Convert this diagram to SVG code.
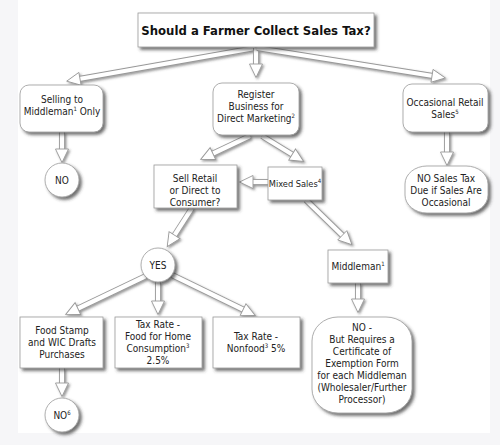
<svg xmlns="http://www.w3.org/2000/svg" width="500" height="445" viewBox="0 0 500 445">
<defs>
<filter id="sh" x="-20%" y="-20%" width="150%" height="160%">
<feDropShadow dx="2.5" dy="2.5" stdDeviation="1.6" flood-color="#333" flood-opacity="0.7"/>
</filter>
<filter id="ash" x="-20%" y="-20%" width="150%" height="160%">
<feDropShadow dx="1.5" dy="1.5" stdDeviation="1.2" flood-color="#444" flood-opacity="0.55"/>
</filter>
<marker id="ah" markerUnits="userSpaceOnUse" markerWidth="16" markerHeight="16" viewBox="0 0 16 16" refX="2" refY="8" orient="auto">
<path d="M1,1.5 L14.5,8 L1,14.5 z" fill="#fff" stroke="#999" stroke-width="0.9" stroke-linejoin="miter"/>
</marker>
</defs>
<style>
.box{fill:#fff;stroke:#999;stroke-width:0.8;filter:url(#sh)}
.t{font-family:"DejaVu Sans Condensed","DejaVu Sans",sans-serif;font-size:10px;fill:#222;text-anchor:middle}
.tt{font-family:"DejaVu Sans Condensed","DejaVu Sans",sans-serif;font-size:13px;font-weight:bold;fill:#111;text-anchor:middle}
.o{fill:none;stroke:#999;stroke-width:6}
.i{fill:none;stroke:#fff;stroke-width:4.2}
.sup{font-size:6px}
</style>
<rect x="0" y="0" width="500" height="445" fill="#f6f6f8"/>
<rect x="18" y="0" width="472" height="433" fill="#fff"/>

<g id="connectors" filter="url(#ash)">
<path class="o" d="M255,48 L79,79"/><path class="i" d="M255,48 L79,79" marker-end="url(#ah)"/>
<path class="o" d="M256,48 L256,65"/><path class="i" d="M256,48 L256,65" marker-end="url(#ah)"/>
<path class="o" d="M257,48 L433,76"/><path class="i" d="M257,48 L433,76" marker-end="url(#ah)"/>
<path class="o" d="M62,132 L62,150"/><path class="i" d="M62,132 L62,150" marker-end="url(#ah)"/>
<path class="o" d="M447,132 L447,153"/><path class="i" d="M447,132 L447,153" marker-end="url(#ah)"/>
<path class="o" d="M250,136 L212,154"/><path class="i" d="M250,136 L212,154" marker-end="url(#ah)"/>
<path class="o" d="M262,136 L293,155"/><path class="i" d="M262,136 L293,155" marker-end="url(#ah)"/>
<path class="o" d="M268,182 L252,182"/><path class="i" d="M268,182 L252,182" marker-end="url(#ah)"/>
<path class="o" d="M192,208 L174,236"/><path class="i" d="M192,208 L174,236" marker-end="url(#ah)"/>
<path class="o" d="M306,200 L343,236"/><path class="i" d="M306,200 L343,236" marker-end="url(#ah)"/>
<path class="o" d="M146,276 L77,309"/><path class="i" d="M146,276 L77,309" marker-end="url(#ah)"/>
<path class="o" d="M158,282 L158,302"/><path class="i" d="M158,282 L158,302" marker-end="url(#ah)"/>
<path class="o" d="M172,275 L244,310"/><path class="i" d="M172,275 L244,310" marker-end="url(#ah)"/>
<path class="o" d="M358,283 L358,300"/><path class="i" d="M358,283 L358,300" marker-end="url(#ah)"/>
<path class="o" d="M62,368 L62,384"/><path class="i" d="M62,368 L62,384" marker-end="url(#ah)"/>
</g>

<g id="title">
<rect class="box" x="138" y="13" width="236" height="34"/>
<text class="tt" x="256" y="35">Should a Farmer Collect Sales Tax?</text>
</g>

<g id="selling">
<rect class="box" x="20" y="85" width="83" height="47" rx="9"/>
<text class="t" x="62" y="103">Selling to</text>
<text class="t" x="62" y="115">Middleman<tspan class="sup" dy="-4">1</tspan><tspan dy="4"> Only</tspan></text>
</g>

<g id="no1">
<circle class="box" cx="62" cy="180" r="17"/>
<text class="t" x="62" y="184">NO</text>
</g>

<g id="register">
<rect class="box" x="213" y="83" width="86" height="52" rx="9"/>
<text class="t" x="256" y="98">Register</text>
<text class="t" x="256" y="110">Business for</text>
<text class="t" x="256" y="122">Direct Marketing<tspan class="sup" dy="-4">2</tspan></text>
</g>

<g id="occasional">
<rect class="box" x="403" y="84" width="85" height="48" rx="9"/>
<text class="t" x="445" y="106">Occasional Retail</text>
<text class="t" x="445" y="118">Sales<tspan class="sup" dy="-4">5</tspan></text>
</g>

<g id="nosalestax">
<rect class="box" x="405" y="166" width="83" height="47" rx="22" ry="18"/>
<text class="t" x="446" y="182">NO Sales Tax</text>
<text class="t" x="446" y="194">Due if Sales Are</text>
<text class="t" x="446" y="206">Occasional</text>
</g>

<g id="sellretail">
<rect class="box" x="154" y="165" width="83" height="43"/>
<text class="t" x="195" y="182">Sell Retail</text>
<text class="t" x="195" y="194">or Direct to</text>
<text class="t" x="195" y="206">Consumer?</text>
</g>

<g id="mixed">
<rect class="box" x="268" y="167" width="54" height="33"/>
<text class="t" x="295" y="187" style="font-size:9.2px">Mixed Sales<tspan class="sup" dy="-4">4</tspan></text>
</g>

<g id="yes">
<circle class="box" cx="158" cy="265" r="17"/>
<text class="t" x="158" y="269">YES</text>
</g>

<g id="middleman">
<rect class="box" x="328" y="250" width="60" height="33"/>
<text class="t" x="358" y="270">Middleman<tspan class="sup" dy="-4">1</tspan></text>
</g>

<g id="foodstamp">
<rect class="box" x="20" y="317" width="83" height="51"/>
<text class="t" x="62" y="334">Food Stamp</text>
<text class="t" x="62" y="346">and WIC Drafts</text>
<text class="t" x="62" y="358">Purchases</text>
</g>

<g id="taxfood">
<rect class="box" x="115" y="317" width="87" height="51"/>
<text class="t" x="158" y="328">Tax Rate -</text>
<text class="t" x="158" y="340">Food for Home</text>
<text class="t" x="158" y="352">Consumption<tspan class="sup" dy="-4">3</tspan></text>
<text class="t" x="158" y="364">2.5%</text>
</g>

<g id="taxnonfood">
<rect class="box" x="213" y="317" width="87" height="51"/>
<text class="t" x="256" y="340">Tax Rate -</text>
<text class="t" x="256" y="352">Nonfood<tspan class="sup" dy="-4">3</tspan><tspan dy="4"> 5%</tspan></text>
</g>

<g id="no6">
<circle class="box" cx="62" cy="415" r="17"/>
<text class="t" x="62" y="419">NO<tspan class="sup" dy="-4">6</tspan></text>
</g>

<g id="nobut">
<rect class="box" x="312" y="317" width="100" height="96" rx="26" ry="24"/>
<text class="t" x="362" y="331">NO -</text>
<text class="t" x="362" y="343">But Requires a</text>
<text class="t" x="362" y="355">Certificate of</text>
<text class="t" x="362" y="367">Exemption Form</text>
<text class="t" x="362" y="379">for each Middleman</text>
<text class="t" x="362" y="391">(Wholesaler/Further</text>
<text class="t" x="362" y="403">Processor)</text>
</g>
</svg>
